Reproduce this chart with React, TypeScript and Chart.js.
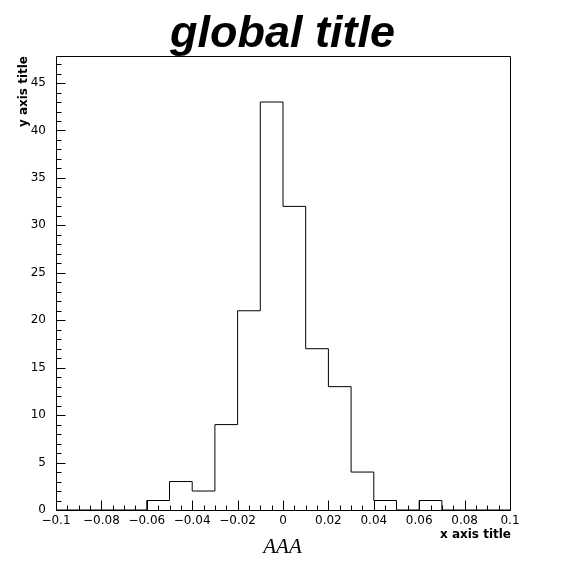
import React, { useEffect, useRef } from "react";
import { Chart, registerables } from "chart.js";

Chart.register(...registerables);

// ---- data ----
const binEdges = [
  -0.1, -0.09, -0.08, -0.07, -0.06, -0.05, -0.04, -0.03, -0.02, -0.01, 0,
  0.01, 0.02, 0.03, 0.04, 0.05, 0.06, 0.07, 0.08, 0.09, 0.1,
];
const binCounts = [0, 0, 0, 0, 1, 3, 2, 9, 21, 43, 32, 17, 13, 4, 1, 0, 1, 0, 0, 0];

const xTickValues = [-0.1, -0.08, -0.06, -0.04, -0.02, 0, 0.02, 0.04, 0.06, 0.08, 0.1];
const xTickLabels = ["\u22120.1", "\u22120.08", "\u22120.06", "\u22120.04", "\u22120.02", "0", "0.02", "0.04", "0.06", "0.08", "0.1"];
const yTickValues = [0, 5, 10, 15, 20, 25, 30, 35, 40, 45];
const yTickLabels = ["0", "5", "10", "15", "20", "25", "30", "35", "40", "45"];

const xMin = -0.1;
const xMax = 0.1;
const yMin = 0;
const yMax = 47.85;

const titleText = "global title";
const xAxisTitle = "x axis title";
const yAxisTitle = "y axis title";
const xSubTitle = "AAA";

export default function App() {
  const canvasRef = useRef<HTMLCanvasElement | null>(null);

  useEffect(() => {
    const canvas = canvasRef.current;
    if (!canvas) return;

    const points = binEdges.map((x, i) => ({
      x,
      y: i < binCounts.length ? binCounts[i] : binCounts[binCounts.length - 1],
    }));

    const decorPlugin = {
      id: "rootDecor",
      afterDatasetsDraw(chart: any) {
        const ctx = chart.ctx as CanvasRenderingContext2D;
        const { left, right, top, bottom } = chart.chartArea;
        const xs = chart.scales.x;
        const ys = chart.scales.y;
        const L = Math.round(left) + 0.5;
        const R = Math.round(right) + 0.5;
        const T = Math.round(top) + 0.5;
        const B = Math.round(bottom) + 0.5;
        ctx.save();
        ctx.strokeStyle = "#000";
        ctx.lineWidth = 1;
        ctx.beginPath();
        ctx.rect(L, T, R - L, B - T);
        // y ticks (inside)
        for (let v = 0; v <= yMax; v += 1) {
          const py = Math.round(ys.getPixelForValue(v)) + 0.5;
          const len = v % 5 === 0 ? 9 : 5;
          ctx.moveTo(L, py);
          ctx.lineTo(L + len, py);
        }
        // x ticks (inside)
        for (let k = 0; k <= 40; k++) {
          const v = xMin + k * 0.005;
          const px = Math.round(xs.getPixelForValue(v)) + 0.5;
          const len = k % 4 === 0 ? 10 : 5;
          ctx.moveTo(px, B);
          ctx.lineTo(px, B - len);
        }
        ctx.stroke();
        ctx.restore();
      },
      afterDraw(chart: any) {
        const ctx = chart.ctx as CanvasRenderingContext2D;
        const { right } = chart.chartArea;
        ctx.save();
        ctx.fillStyle = "#000";
        // global title
        ctx.font = "bold italic 45px 'Liberation Sans'";
        ctx.textAlign = "center";
        ctx.textBaseline = "alphabetic";
        ctx.fillText(titleText, 282.5, 47);
        // x axis title
        ctx.font = "bold 12px 'DejaVu Sans'";
        ctx.textAlign = "right";
        ctx.fillText(xAxisTitle, Math.round(right) + 1, 538);
        // sub title AAA
        ctx.font = "italic 21px 'Liberation Serif'";
        ctx.textAlign = "center";
        ctx.fillText(xSubTitle, 282.5, 553);
        // y axis title
        ctx.save();
        ctx.translate(27, 56);
        ctx.rotate(-Math.PI / 2);
        ctx.font = "bold 12px 'DejaVu Sans'";
        ctx.textAlign = "right";
        ctx.fillText(yAxisTitle, 0, 0);
        ctx.restore();
        ctx.restore();
      },
    };

    const tickFont = { family: "'DejaVu Sans'", size: 12 };

    const chart = new Chart(canvas, {
      type: "line",
      data: {
        datasets: [
          {
            data: points,
            stepped: "before",
            borderColor: "#000",
            borderWidth: 1,
            pointRadius: 0,
            fill: false,
            tension: 0,
          },
        ],
      },
      options: {
        animation: false,
        responsive: false,
        devicePixelRatio: 1,
        layout: { padding: { top: 56, right: 57, left: 0, bottom: 0 } },
        plugins: {
          legend: { display: false },
          tooltip: { enabled: false },
          title: { display: false },
        },
        scales: {
          x: {
            type: "linear",
            position: "bottom",
            min: xMin,
            max: xMax,
            grid: { display: false, drawTicks: false },
            border: { display: false },
            afterBuildTicks: (scale: any) => {
              scale.ticks = xTickValues.map((v) => ({ value: v }));
            },
            afterFit: (scale: any) => {
              scale.height = 57;
              scale.paddingLeft = 0;
              scale.paddingRight = 0;
            },
            ticks: {
              autoSkip: false,
              maxRotation: 0,
              minRotation: 0,
              padding: 4,
              color: "#000",
              font: tickFont,
              callback: (_v: any, i: number) => xTickLabels[i],
            },
          },
          y: {
            type: "linear",
            min: yMin,
            max: yMax,
            grid: { display: false, drawTicks: false },
            border: { display: false },
            afterBuildTicks: (scale: any) => {
              scale.ticks = yTickValues.map((v) => ({ value: v }));
            },
            afterFit: (scale: any) => {
              scale.width = 56;
            },
            ticks: {
              autoSkip: false,
              padding: 10,
              color: "#000",
              font: tickFont,
              callback: (_v: any, i: number) => yTickLabels[i],
            },
          },
        },
      },
      plugins: [decorPlugin],
    } as any);

    return () => chart.destroy();
  }, []);

  return (
    <div style={{ position: "absolute", left: 0, top: 0, width: 567, height: 567, background: "#fff" }}>
      <canvas ref={canvasRef} width={567} height={567} style={{ display: "block", width: 567, height: 567 }} />
    </div>
  );
}
